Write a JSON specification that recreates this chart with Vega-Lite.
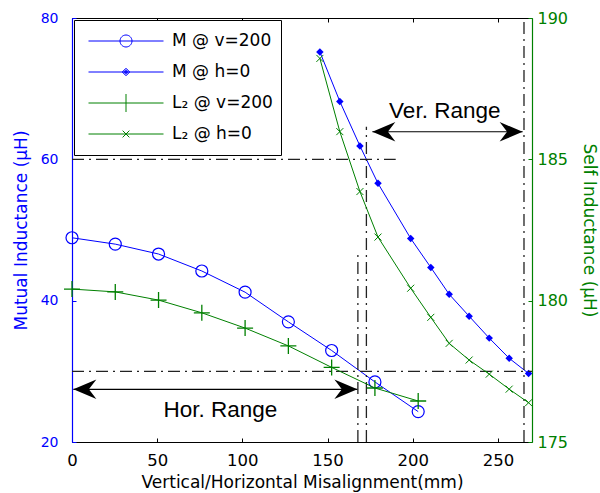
{
  "$schema": "https://vega.github.io/schema/vega-lite/v6.json",
  "width": 460,
  "height": 424,
  "autosize": "none",
  "padding": {"left": 72, "top": 18, "right": 68, "bottom": 51},
  "background": "white",
  "datasets": {
    "curves": [
      {"series": "M @ v=200", "x": 0, "v": 48.9},
      {"series": "M @ v=200", "x": 25.4, "v": 48.0},
      {"series": "M @ v=200", "x": 50.8, "v": 46.6},
      {"series": "M @ v=200", "x": 76.2, "v": 44.2},
      {"series": "M @ v=200", "x": 101.6, "v": 41.2},
      {"series": "M @ v=200", "x": 127, "v": 37.0},
      {"series": "M @ v=200", "x": 152.4, "v": 32.95},
      {"series": "M @ v=200", "x": 177.8, "v": 28.5},
      {"series": "M @ v=200", "x": 203.2, "v": 24.3},
      {"series": "M @ h=0", "x": 145.5, "v": 75.2},
      {"series": "M @ h=0", "x": 157.2, "v": 68.2},
      {"series": "M @ h=0", "x": 169.0, "v": 61.9},
      {"series": "M @ h=0", "x": 179.6, "v": 56.6},
      {"series": "M @ h=0", "x": 198.8, "v": 48.8},
      {"series": "M @ h=0", "x": 210.6, "v": 44.7},
      {"series": "M @ h=0", "x": 221.4, "v": 40.9},
      {"series": "M @ h=0", "x": 233.1, "v": 37.8},
      {"series": "M @ h=0", "x": 244.9, "v": 34.7},
      {"series": "M @ h=0", "x": 256.6, "v": 31.85},
      {"series": "M @ h=0", "x": 268.0, "v": 29.7},
      {"series": "L₂ @ v=200", "x": 0, "v": 180.41},
      {"series": "L₂ @ v=200", "x": 25.4, "v": 180.31},
      {"series": "L₂ @ v=200", "x": 50.8, "v": 180.02},
      {"series": "L₂ @ v=200", "x": 76.2, "v": 179.57},
      {"series": "L₂ @ v=200", "x": 101.6, "v": 179.03},
      {"series": "L₂ @ v=200", "x": 127, "v": 178.40},
      {"series": "L₂ @ v=200", "x": 152.4, "v": 177.64},
      {"series": "L₂ @ v=200", "x": 177.8, "v": 176.91},
      {"series": "L₂ @ v=200", "x": 203.2, "v": 176.45},
      {"series": "L₂ @ h=0", "x": 145.5, "v": 188.57},
      {"series": "L₂ @ h=0", "x": 157.2, "v": 185.98},
      {"series": "L₂ @ h=0", "x": 169.0, "v": 183.86},
      {"series": "L₂ @ h=0", "x": 179.6, "v": 182.25},
      {"series": "L₂ @ h=0", "x": 198.8, "v": 180.44},
      {"series": "L₂ @ h=0", "x": 210.6, "v": 179.41},
      {"series": "L₂ @ h=0", "x": 221.4, "v": 178.49},
      {"series": "L₂ @ h=0", "x": 233.1, "v": 177.90},
      {"series": "L₂ @ h=0", "x": 244.9, "v": 177.40},
      {"series": "L₂ @ h=0", "x": 256.6, "v": 176.87},
      {"series": "L₂ @ h=0", "x": 268.0, "v": 176.39}
    ],
    "refs": [
      {"x": 0, "x2": 190, "v": 60, "v2": 60},
      {"x": 0, "x2": 270, "v": 30, "v2": 30},
      {"x": 167.8, "x2": 167.8, "v": 20, "v2": 47},
      {"x": 172.8, "x2": 172.8, "v": 20, "v2": 64.6},
      {"x": 265.3, "x2": 265.3, "v": 20, "v2": 80}
    ],
    "arrows": [
      {"name": "Hor. Range", "x": 0.8, "x2": 167.5, "v": 27.46, "tx": 87.1, "tv": 23.6},
      {"name": "Ver. Range", "x": 176.3, "x2": 264.5, "v": 63.9, "tx": 218.8, "tv": 65.8}
    ]
  },
  "layer": [
    {
      "layer": [
        {
          "data": {"name": "curves"},
          "transform": [{"filter": "datum.series === 'M @ v=200' || datum.series === 'M @ h=0'"}],
          "mark": {"type": "line", "strokeWidth": 1, "color": "#0000ff"},
          "encoding": {
            "x": {"field": "x", "type": "quantitative", "title": "Vertical/Horizontal Misalignment(mm)",
                  "scale": {"domain": [0, 270], "nice": false, "zero": false},
                  "axis": {"values": [0, 50, 100, 150, 200, 250], "labelFlush": false}},
            "y": {"field": "v", "type": "quantitative", "title": "Mutual Inductance (μH)",
                  "scale": {"domain": [20, 80], "nice": false, "zero": false},
                  "axis": {"orient": "left", "values": [20, 40, 60, 80]}},
            "detail": {"field": "series"}
          }
        },
        {
          "data": {"name": "curves"},
          "transform": [{"filter": "datum.series === 'M @ v=200'"}],
          "mark": {"type": "point", "shape": "circle", "filled": false, "color": "#0000ff", "size": 144, "strokeWidth": 1.2, "opacity": 1},
          "encoding": {
            "x": {"field": "x", "type": "quantitative", "title": "Vertical/Horizontal Misalignment(mm)"},
            "y": {"field": "v", "type": "quantitative", "title": "Mutual Inductance (μH)"}
          }
        },
        {
          "data": {"name": "curves"},
          "transform": [{"filter": "datum.series === 'M @ h=0'"}],
          "mark": {"type": "point", "shape": "diamond", "filled": true, "color": "#0000ff", "size": 56, "opacity": 1},
          "encoding": {
            "x": {"field": "x", "type": "quantitative", "title": "Vertical/Horizontal Misalignment(mm)"},
            "y": {"field": "v", "type": "quantitative", "title": "Mutual Inductance (μH)"}
          }
        },
        {
          "data": {"name": "refs"},
          "mark": {"type": "rule", "color": "#222222", "strokeWidth": 1.3, "strokeDash": [12, 5, 2, 5]},
          "encoding": {
            "x": {"field": "x", "type": "quantitative", "title": "Vertical/Horizontal Misalignment(mm)"},
            "x2": {"field": "x2"},
            "y": {"field": "v", "type": "quantitative", "title": "Mutual Inductance (μH)"},
            "y2": {"field": "v2"}
          }
        },
        {
          "data": {"name": "arrows"},
          "mark": {"type": "rule", "color": "black", "strokeWidth": 1.2},
          "encoding": {
            "x": {"field": "x", "type": "quantitative", "title": "Vertical/Horizontal Misalignment(mm)"},
            "x2": {"field": "x2"},
            "y": {"field": "v", "type": "quantitative", "title": "Mutual Inductance (μH)"}
          }
        },
        {
          "data": {"name": "arrows"},
          "mark": {"type": "point", "shape": "M0,0L2,-0.85L1.35,0L2,0.85Z", "filled": true, "color": "black", "size": 529, "opacity": 1, "strokeWidth": 0},
          "encoding": {
            "x": {"field": "x", "type": "quantitative", "title": "Vertical/Horizontal Misalignment(mm)"},
            "y": {"field": "v", "type": "quantitative", "title": "Mutual Inductance (μH)"}
          }
        },
        {
          "data": {"name": "arrows"},
          "mark": {"type": "point", "shape": "M0,0L-2,-0.85L-1.35,0L-2,0.85Z", "filled": true, "color": "black", "size": 529, "opacity": 1, "strokeWidth": 0},
          "encoding": {
            "x": {"field": "x2", "type": "quantitative", "title": "Vertical/Horizontal Misalignment(mm)"},
            "y": {"field": "v", "type": "quantitative", "title": "Mutual Inductance (μH)"}
          }
        },
        {
          "data": {"name": "arrows"},
          "mark": {"type": "text", "font": "Liberation Sans", "fontSize": 22.5, "color": "black", "align": "center", "baseline": "alphabetic"},
          "encoding": {
            "x": {"field": "tx", "type": "quantitative", "title": "Vertical/Horizontal Misalignment(mm)"},
            "y": {"field": "tv", "type": "quantitative", "title": "Mutual Inductance (μH)"},
            "text": {"field": "name"}
          }
        },
        {
          "data": {"name": "curves"},
          "transform": [{"filter": "datum.series === 'M @ v=200' || datum.series === 'M @ h=0'"}],
          "mark": {"type": "point", "filled": false, "opacity": 0, "size": 5625, "strokeWidth": 1},
          "encoding": {
            "x": {"field": "x", "type": "quantitative", "title": "Vertical/Horizontal Misalignment(mm)"},
            "y": {"field": "v", "type": "quantitative", "title": "Mutual Inductance (μH)"},
            "color": {
              "field": "series", "type": "nominal",
              "scale": {"domain": ["M @ v=200", "M @ h=0", "L₂ @ v=200", "L₂ @ h=0"],
                        "range": ["#0000ff", "#0000ff", "#008000", "#008000"]},
              "legend": {
                "title": null, "orient": "top-left", "offset": 2, "padding": 8,
                "strokeColor": "black", "fillColor": "white",
                "symbolSize": 5625, "symbolStrokeWidth": 1, "symbolOpacity": 1,
                "clipHeight": 26, "rowPadding": 5, "symbolOffset": 6, "labelOffset": 8,
                "labelFont": "DejaVu Sans", "labelFontSize": 17, "labelColor": "black", "labelLimit": 300
              }
            },
            "shape": {
              "field": "series", "type": "nominal",
              "scale": {"domain": ["M @ v=200", "M @ h=0", "L₂ @ v=200", "L₂ @ h=0"],
                        "range": [
                          "M-1,0H1M-0.16,0A0.16,0.16,0,1,1,0.16,0A0.16,0.16,0,1,1,-0.16,0",
                          "M-1,0H1M0,-0.1L0.1,0L0,0.1L-0.1,0ZM0,-0.06L0.06,0L0,0.06L-0.06,0ZM0,-0.025L0.025,0L0,0.025L-0.025,0Z",
                          "M-1,0H1M0,-0.24V0.24",
                          "M-1,0H1M-0.09,-0.09L0.09,0.09M-0.09,0.09L0.09,-0.09"
                        ]},
              "legend": {
                "title": null, "orient": "top-left", "offset": 2, "padding": 8,
                "strokeColor": "black", "fillColor": "white",
                "symbolSize": 5625, "symbolStrokeWidth": 1, "symbolOpacity": 1,
                "clipHeight": 26, "rowPadding": 5, "symbolOffset": 6, "labelOffset": 8,
                "labelFont": "DejaVu Sans", "labelFontSize": 17, "labelColor": "black", "labelLimit": 300
              }
            }
          }
        }
      ]
    },
    {
      "layer": [
        {
          "data": {"name": "curves"},
          "transform": [{"filter": "datum.series === 'L₂ @ v=200' || datum.series === 'L₂ @ h=0'"}],
          "mark": {"type": "line", "strokeWidth": 1, "color": "#008000"},
          "encoding": {
            "x": {"field": "x", "type": "quantitative",
                  "scale": {"domain": [0, 270], "nice": false, "zero": false},
                  "axis": {"orient": "top", "labels": false, "title": null, "values": [0, 50, 100, 150, 200, 250]}},
            "y": {"field": "v", "type": "quantitative", "title": "Self Inductance (μH)",
                  "scale": {"domain": [175, 190], "nice": false, "zero": false},
                  "axis": {"orient": "right", "values": [175, 180, 185, 190]}},
            "detail": {"field": "series"}
          }
        },
        {
          "data": {"name": "curves"},
          "transform": [{"filter": "datum.series === 'L₂ @ v=200'"}],
          "mark": {"type": "point", "shape": "M-1,0H1M0,-1V1", "filled": false, "color": "#008000", "size": 256, "strokeWidth": 1.3, "opacity": 1},
          "encoding": {
            "x": {"field": "x", "type": "quantitative"},
            "y": {"field": "v", "type": "quantitative", "title": "Self Inductance (μH)"}
          }
        },
        {
          "data": {"name": "curves"},
          "transform": [{"filter": "datum.series === 'L₂ @ h=0'"}],
          "mark": {"type": "point", "shape": "M-1,-1L1,1M-1,1L1,-1", "filled": false, "color": "#008000", "size": 49, "strokeWidth": 1, "opacity": 1},
          "encoding": {
            "x": {"field": "x", "type": "quantitative"},
            "y": {"field": "v", "type": "quantitative", "title": "Self Inductance (μH)"}
          }
        }
      ]
    }
  ],
  "resolve": {"scale": {"y": "independent"}, "axis": {"x": "independent", "y": "independent"}},
  "config": {
    "view": {"stroke": null},
    "font": "DejaVu Sans",
    "axis": {"grid": false, "tickSize": -4, "tickWidth": 1, "domainWidth": 1.2,
             "labelFont": "DejaVu Sans", "titleFont": "DejaVu Sans",
             "titleFontWeight": "normal", "labelFontWeight": "normal"},
    "axisBottom": {"labelFontSize": 16.5, "labelPadding": 14, "titleFontSize": 17, "titlePadding": 6,
                   "domainColor": "black", "tickColor": "black", "labelColor": "black", "titleColor": "black"},
    "axisTop": {"domainColor": "black", "tickColor": "black"},
    "axisLeft": {"labelFontSize": 14, "labelPadding": 18, "titleFontSize": 17, "titlePadding": 10,
                 "domainColor": "#0000ff", "tickColor": "#0000ff", "labelColor": "#0000ff", "titleColor": "#0000ff"},
    "axisRight": {"labelFontSize": 16, "labelPadding": 9, "titleFontSize": 17, "titlePadding": 12,
                  "domainColor": "#008000", "tickColor": "#008000", "labelColor": "#008000", "titleColor": "#008000"}
  }
}
